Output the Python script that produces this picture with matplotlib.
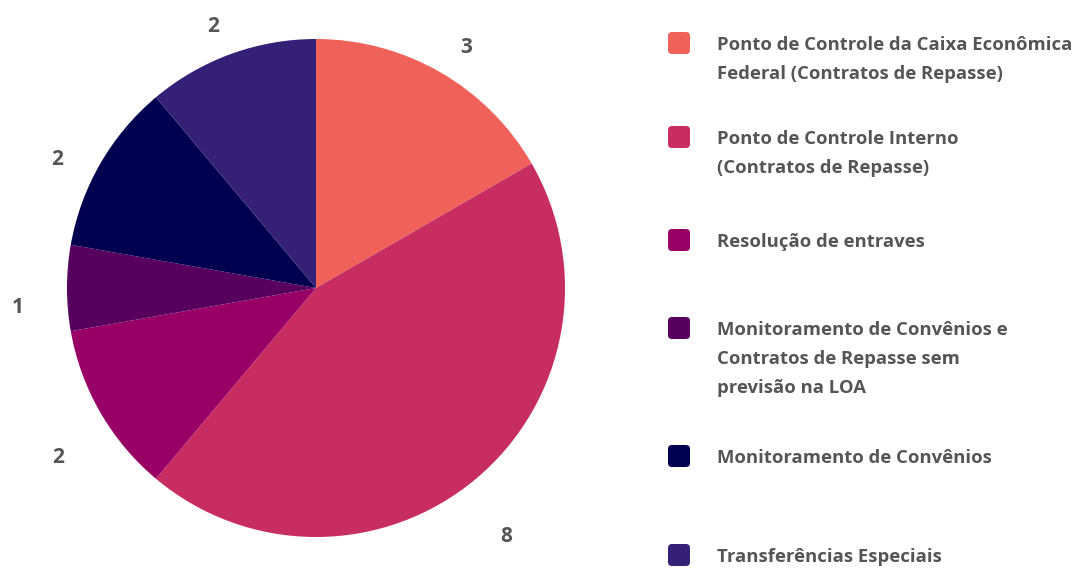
import numpy as np
import matplotlib.pyplot as plt
from matplotlib.patches import FancyBboxPatch

# counts per category, drawn clockwise from 12 o'clock
categories = [
    "Ponto de Controle da Caixa Econômica\nFederal (Contratos de Repasse)",
    "Ponto de Controle Interno\n(Contratos de Repasse)",
    "Resolução de entraves",
    "Monitoramento de Convênios e\nContratos de Repasse sem\nprevisão na LOA",
    "Monitoramento de Convênios",
    "Transferências Especiais",
]
values = [3, 8, 2, 1, 2, 2]
colors = ["#F0615A", "#C82D62", "#990066", "#58005E", "#000050", "#342077"]

TEXT = "#555555"
plt.rcParams["font.family"] = ["Open Sans", "DejaVu Sans"]

W, H = 1082, 568
fig = plt.figure(figsize=(W / 100, H / 100), dpi=100)

# pie axes: centre (316, 288) px, radius 249 px
cx, cy, r = 316, 288, 249
ax = fig.add_axes([(cx - r) / W, (H - cy - r) / H, 2 * r / W, 2 * r / H])
wedges, _ = ax.pie(values, colors=colors, startangle=90, counterclock=False,
                   wedgeprops=dict(linewidth=0))
ax.set_xlim(-1, 1)
ax.set_ylim(-1, 1)
ax.set_aspect("equal")
ax.axis("off")

# value labels just outside each wedge (radial distance, angular nudge in deg)
label_dist = [1.145, 1.25, 1.235, 1.20, 1.165, 1.135]
label_nudge = [-1.8, -2.4, 2.9, 3.3, 3.2, 1.4]
for w, v, d, dn in zip(wedges, values, label_dist, label_nudge):
    mid = np.deg2rad((w.theta1 + w.theta2) / 2 + dn)
    ax.annotate(str(v), (d * np.cos(mid), d * np.sin(mid)),
                xytext=(0, -7.5), textcoords="offset pixels",
                color=TEXT, fontsize=15, fontweight="bold",
                ha="center", va="baseline", annotation_clip=False)

# legend drawn in pixel space on an overlay axes
lg = fig.add_axes([0, 0, 1, 1], zorder=-1)
lg.set_xlim(0, W)
lg.set_ylim(H, 0)
lg.axis("off")
row_y = [43, 137, 240, 328, 456, 555]
line_h = 29
for label, col, y in zip(categories, colors, row_y):
    lg.add_patch(FancyBboxPatch((668, y - 11), 22, 22,
                                boxstyle="round,pad=0,rounding_size=4",
                                fc=col, ec="none"))
    for i, line in enumerate(label.split("\n")):
        lg.text(717, y + 7 + i * line_h, line, color=TEXT, fontsize=13.3,
                fontweight="bold", va="baseline", ha="left")

fig.savefig("out.png", dpi=100)
